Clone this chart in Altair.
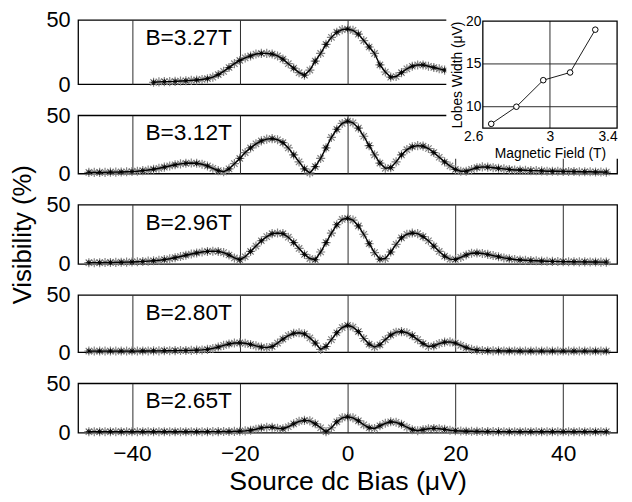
import altair as alt
import pandas as pd

FONT = "Liberation Sans"

# ---------------- data ----------------
x_main = list(range(-48, 49))   # source dc bias (uV) sample positions
x_top = list(range(-36, 19))    # top trace is visible only on this span

vis_327 = [1.5, 1.8, 2, 2, 2.2, 2.5, 2.7, 3, 3.3, 3.7, 4.3, 5.5, 7.5, 10,
           13, 16, 18.5, 20.5, 22, 23.5, 24, 24, 23.5, 22, 19.5, 16, 12.5, 9, 7, 11,
           18, 24, 31, 36.5, 40.5, 42.5, 43, 42, 39, 34, 29, 24, 15, 9.5, 5.5,
           6, 9, 12, 14, 15, 15, 14, 13, 12, 11]

vis_312 = [1, 1, 1, 1, 1.2, 1.2, 1.3, 1.5, 1.7, 2, 2.5,
           3, 3.7, 4.5, 5.5, 6.5, 7.5, 8.3, 8.8, 9, 8.8, 8, 6.5, 4.5, 2.5, 1.5,
           4, 8.5, 13, 18, 22, 25.5, 28, 29.5, 30, 29, 26.5, 22, 16, 10, 4, 0.5,
           6, 13, 22, 31, 38, 43, 45, 43.5, 39, 32, 24, 16, 9, 4.5, 5,
           10, 16, 20.5, 23, 24, 23.5, 21.5, 18, 14, 10, 6.5, 3.5, 2, 2,
           3.5, 5, 5.7, 5.5, 5, 4.5, 4, 3.5, 3, 3, 2.8, 2.5, 2.5, 2.3, 2, 2, 2,
           1.8, 1.8, 1.7, 1.5, 1.5, 1.5, 1.3, 1.3, 1.2]

vis_296 = [1, 1, 1, 1.1, 1.2, 1.3, 1.4, 1.5, 1.6, 1.8, 2,
           2.3, 2.6, 3, 3.6, 4.3, 5.2, 6.2, 7.3, 8.3, 9.2, 10, 10.5, 10.7, 10.5, 9.5,
           7.5, 5, 3.5, 6, 10.5, 15, 19.5, 23, 25.5, 26, 25.5, 22.5, 18, 13, 8, 4.5,
           3.5, 10, 18, 26, 33, 37.5, 38.5, 37, 32, 25, 17, 9.5, 4, 4.5, 10,
           16.5, 22, 25, 26, 25.5, 23, 19.5, 15, 10.5, 6.5, 4, 3.7, 5.5, 7.5,
           9, 9.2, 8.8, 8, 7, 6, 5, 4.3, 3.7, 3.3, 3, 2.8, 2.6, 2.4, 2.2, 2.1, 2,
           1.9, 1.8, 1.8, 1.7, 1.7, 1.6, 1.6, 1.5, 1.5]

vis_280 = [1, 1, 1, 1, 1, 1, 1, 1, 1, 1, 1.1,
           1.1, 1.2, 1.2, 1.3, 1.3, 1.4, 1.5, 1.5, 1.6, 1.8, 2, 2.5, 3.3, 4.5, 6,
           7.2, 8, 8.2, 7.8, 6.8, 5.5, 4.5, 4, 5, 8, 11.5, 14.5, 16.5, 17, 16, 12.5,
           8, 2.5, 5, 11, 17, 21.5, 23.5, 22, 18, 12, 7, 4.5, 6.5, 11, 15,
           17.5, 18, 17, 14.5, 11, 7.5, 5, 5.5, 7.5, 8.8, 9, 8, 6, 4,
           2.5, 1.8, 1.5, 1.3, 1.2, 1.2, 1.1, 1.1, 1.1, 1, 1, 1, 1, 1, 1, 1, 1,
           1, 1, 1, 1, 1, 1, 1, 1, 1]

vis_265 = [1, 1, 1, 1, 1, 1, 1, 1, 1, 1, 1,
           1, 1, 1, 1, 1, 1, 1, 1, 1, 1, 1, 1, 1.1, 1.1, 1.2,
           1.2, 1.3, 1.5, 1.8, 2.5, 3.5, 4.8, 5.5, 5.5, 4.5, 4, 6, 9, 11.5, 12.5, 12,
           9, 5, 1, 5, 11, 15, 16, 15, 12, 8, 5, 4.3, 7, 9.5, 11,
           10.5, 8.5, 5.5, 3, 2, 3, 4, 4.3, 4, 3.3, 2.5, 2, 1.7, 1.5,
           1.4, 1.3, 1.2, 1.2, 1.1, 1.1, 1, 1, 1, 1, 1, 1, 1, 1, 1, 1, 1,
           1, 1, 1, 1, 1, 1, 1, 1, 1]

panel_labels = ["B=3.27T", "B=3.12T", "B=2.96T", "B=2.80T", "B=2.65T"]
label_y = [35.8, 34.3, 34.6, 34.1, 31.5]
x_ticks = [-40, -20, 0, 20, 40]
y_ticks = [0, 50]

# inset
field_T = [2.65, 2.80, 2.96, 3.12, 3.27]
lobe_w = [8.0, 10.0, 13.1, 14.0, 19.0]
inset_x_ticks = [2.6, 3.0, 3.4]
inset_y_ticks = [10, 15, 20]
inset_x_grid = [3.0]
inset_y_grid = [10, 15]
inset_xdom = [2.6, 3.4]
inset_ydom = [7.5, 20]

# ---------------- layout ----------------
W = 546
heights = [65, 59, 60, 58, 50]
SP = 31.5

AST = "M-1,0L1,0M0,-1L0,1M-0.7,-0.7L0.7,0.7M-0.7,0.7L0.7,-0.7"


def main_layers(xs, vs, label, ly, idx):
    df = pd.DataFrame({"x": xs, "v": vs})
    xk = dict(values=x_ticks, grid=True, gridColor="#2b2b2b", gridWidth=1,
              gridOpacity=1, ticks=False, domain=False)
    if idx == 4:
        xk.update(labels=True, labelFontSize=23, labelPadding=10,
                  title="Source dc Bias (μV)", titleFontSize=27,
                  titleFontWeight="normal", titlePadding=4)
    else:
        xk.update(labels=False, title="")
    yk = dict(values=y_ticks, ticks=False, domain=False, grid=False,
              labelFontSize=22, labelPadding=8)
    if idx == 2:
        yk.update(title="Visibility (%)", titleFontSize=26,
                  titleFontWeight="normal", titlePadding=11)
    else:
        yk.update(title="")
    X = alt.X("x:Q", scale=alt.Scale(domain=[-50, 50], nice=False, zero=False),
              axis=alt.Axis(**xk))
    Y = alt.Y("v:Q", scale=alt.Scale(domain=[0, 50], nice=False, zero=False),
              axis=alt.Axis(**yk))
    base = alt.Chart(df).encode(x=X, y=Y)
    gray = base.mark_point(shape=AST, size=85, filled=False, color="#808080",
                           strokeWidth=1.2, opacity=1)
    line = base.mark_line(color="black", strokeWidth=1.4)
    black = base.transform_filter("datum.x % 2 == 0").mark_point(
        shape=AST, size=30, filled=False, color="black", strokeWidth=0.9, opacity=1)
    txt = alt.Chart(pd.DataFrame({"label": [label]})).mark_text(
        align="left", baseline="middle", fontSize=23, font=FONT, color="black"
    ).encode(x=alt.datum(-37.5), y=alt.datum(ly), text="label:N")
    return alt.layer(gray, line, black, txt)


def inset_layers(h2):
    ix = alt.Scale(domain=inset_xdom, range=[410, 546], nice=False, zero=False)
    iy = alt.Scale(domain=inset_ydom, range=[13, -95.4], nice=False, zero=False)
    xax = alt.Axis(orient="bottom", offset=13 - h2, values=inset_x_ticks, format="~g",
                   ticks=False, domain=False, grid=False, labelFontSize=14,
                   labelPadding=2,
                   labelAlign=alt.condition("datum.value < 2.7 || datum.value > 3.3",
                                            alt.value("right"), alt.value("center")),
                   title="Magnetic Field (T)", titleFontSize=14,
                   titleFontWeight="normal", titlePadding=3, zindex=2)
    yax = alt.Axis(orient="left", offset=-410, values=inset_y_ticks, ticks=False,
                   domain=False, grid=False, labelFontSize=14, labelPadding=2,
                   title="Lobes Width (μV)", titleFontSize=14,
                   titleFontWeight="normal", titlePadding=1, zindex=2)
    X = alt.X("B:Q", scale=ix, axis=xax)
    Y = alt.Y("w:Q", scale=iy, axis=yax)
    df = pd.DataFrame({"B": field_T, "w": lobe_w})

    bg = alt.Chart(pd.DataFrame({"k": [0]})).mark_rect(color="white", opacity=1).encode(
        x=alt.value(373), x2=alt.value(550), y=alt.value(-102), y2=alt.value(44))
    vgrid = alt.Chart(pd.DataFrame({"B": inset_x_grid,
                                    "w": [inset_ydom[0]] * len(inset_x_grid),
                                    "w2": [inset_ydom[1]] * len(inset_x_grid)})
                      ).mark_rule(color="#2b2b2b", strokeWidth=1).encode(
        x=X, y=Y, y2=alt.Y2("w2"))
    hgrid = alt.Chart(pd.DataFrame({"w": inset_y_grid,
                                    "B": [inset_xdom[0]] * len(inset_y_grid),
                                    "B2": [inset_xdom[1]] * len(inset_y_grid)})
                      ).mark_rule(color="#2b2b2b", strokeWidth=1).encode(
        y=Y, x=X, x2=alt.X2("B2"))
    line = alt.Chart(df).mark_line(color="black", strokeWidth=0.9).encode(x=X, y=Y)
    pts = alt.Chart(df).mark_point(shape="circle", size=32, filled=True, fill="white",
                                   stroke="black", strokeWidth=1, opacity=1
                                   ).encode(x=X, y=Y)
    frame = alt.Chart(pd.DataFrame({"B": [inset_xdom[0]], "B2": [inset_xdom[1]],
                                    "w": [inset_ydom[0]], "w2": [inset_ydom[1]]})
                      ).mark_rect(fillOpacity=0, stroke="black", strokeWidth=1.3).encode(
        x=X, x2=alt.X2("B2"), y=Y, y2=alt.Y2("w2"))
    return alt.layer(bg, vgrid, hgrid, line, pts, frame)


series = [(x_top, vis_327), (x_main, vis_312), (x_main, vis_296),
          (x_main, vis_280), (x_main, vis_265)]

panels = []
for i, (xs, vs) in enumerate(series):
    m = main_layers(xs, vs, panel_labels[i], label_y[i], i)
    if i == 1:
        p = alt.layer(m, inset_layers(heights[1])).resolve_scale(
            x="independent", y="independent")
    else:
        p = m
    panels.append(p.properties(width=W, height=heights[i]))

chart = alt.vconcat(*panels, spacing=SP, bounds="flush").properties(
    padding={"left": 0, "top": -3, "right": 2, "bottom": 0}
).configure_view(stroke="black", strokeWidth=1.3).configure_axis(
    labelFont=FONT, titleFont=FONT, labelColor="black", titleColor="black"
).configure_text(font=FONT)

chart.save("out.html", embed_options={"renderer": "svg", "actions": False})
